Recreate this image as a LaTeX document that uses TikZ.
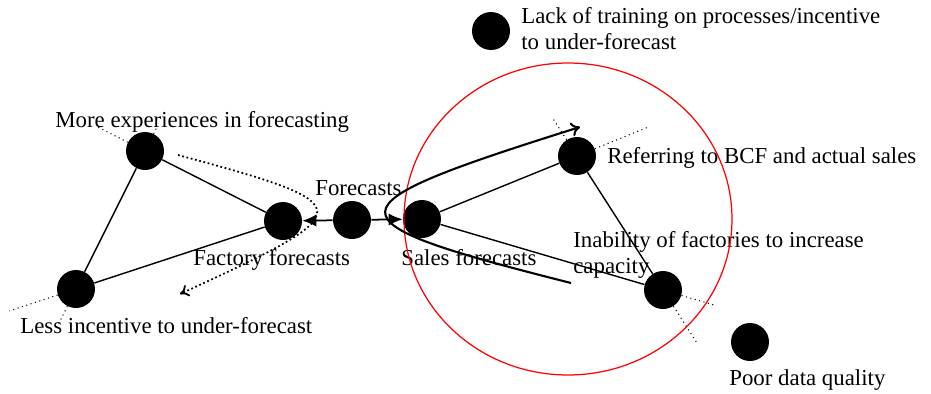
\documentclass[tikz,border=0pt]{standalone}
\usepackage{fontspec}
\setmainfont{Liberation Serif}
\usetikzlibrary{arrows.meta,calc}

\begin{document}
\begin{tikzpicture}[x=0.02cm,y=-0.02cm,
  blob/.style={circle,fill=black,minimum size=0.76cm,inner sep=0pt},
  lbl/.style={anchor=base west,inner sep=0pt,align=left},
  side/.style={line width=0.8pt},
  stub/.style={dotted,line width=0.6pt},
  font=\fontsize{13}{14.8}\selectfont]
  \useasboundingbox (0,0) rectangle (931,393);

  % Factory side
  \node[blob] (exp) at (145,151) {};
  \node[blob] (fac) at (283,221) {};
  \node[blob] (inc) at (76,289) {};
  % Forecasts in the middle
  \node[blob] (fcs) at (352,220) {};
  % Sales side
  \node[blob] (sal) at (422,219) {};
  \node[blob] (bcf) at (577,156) {};
  \node[blob] (cap) at (663,290) {};
  % Loose points
  \node[blob] (trn) at (491,31) {};
  \node[blob] (dat) at (750,342) {};

  % Labels
  \node[lbl] at (55,127) {More experiences in forecasting};
  \node[lbl] at (193,265) {Factory forecasts};
  \node[lbl] at (20,333) {Less incentive to under-forecast};
  \node[lbl] at (315,195) {Forecasts};
  \node[lbl] at (401,265) {Sales forecasts};
  \node[lbl] at (607,163) {Referring to BCF and actual sales};
  \node[lbl] at (573,273) {Inability of factories to increase\\capacity};
  \node[lbl] at (521,49) {Lack of training on processes/incentive\\to under-forecast};
  \node[lbl] at (729,385) {Poor data quality};

  % Triangles
  \draw[side] (exp) -- (fac) -- (inc) -- (exp);
  \draw[side] (sal) -- (bcf) -- (cap) -- (sal);

  % Dotted extensions
  \draw[stub] (exp) -- ($(exp)!-1.08cm!(fac)$);
  \draw[stub] (exp) -- ($(exp)!-0.52cm!(inc)$);
  \draw[stub] (inc) -- ($(inc)!-1.4cm!(fac)$);
  \draw[stub] (inc) -- ($(inc)!-0.86cm!(exp)$);
  \draw[stub] (bcf) -- ($(bcf)!-1.52cm!(sal)$);
  \draw[stub] (bcf) -- ($(bcf)!-0.9cm!(cap)$);
  \draw[stub] (cap) -- ($(cap)!-1.09cm!(sal)$);
  \draw[stub] (cap) -- ($(cap)!-1.23cm!(bcf)$);

  % Forecasts split both ways
  \draw[line width=1pt,-{Latex[length=8pt,width=7pt]}] (fcs) -- (fac);
  \draw[line width=1pt,-{Latex[length=8pt,width=7pt]}] (fcs) -- (sal);

  % Boundary
  \draw[red,line width=0.7pt] (568,219) ellipse [x radius=164, y radius=156];

  % Loops
  \coordinate (loopA) at (178,155);
  \coordinate (loopB) at (180,294);
  \coordinate (loopC) at (571,283);
  \coordinate (loopD) at (580,127);
  \draw[line width=1pt,dash pattern=on 1pt off 1.5pt,-{To[length=5pt,width=7pt]}]
    (loopA) .. controls (363,205) and (363,210) .. (loopB);
  \draw[line width=1.2pt,-{To[length=5pt,width=8pt]}]
    (loopC) .. controls (322,220) and (322,208) .. (loopD);
\end{tikzpicture}
\end{document}
